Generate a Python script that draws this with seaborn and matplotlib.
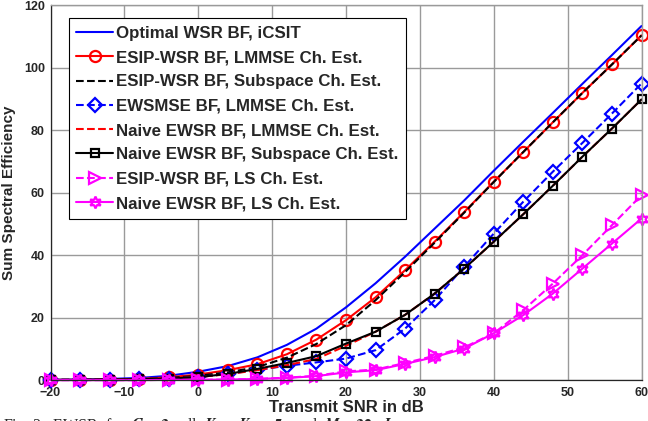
import matplotlib
matplotlib.use("Agg")
import matplotlib.pyplot as plt
import numpy as np
import pandas as pd
import seaborn as sns

# transmit SNR grid (dB)
snr = list(range(-20, 61, 4))

optimal_icsit = [0.1, 0.2, 0.4, 0.7, 1.4, 2.7, 4.5, 7.3, 11.3, 16.5, 23.3,
                 31.0, 39.5, 48.5, 57.5, 67.0, 76.3, 85.5, 94.8, 104.0, 113.3]
esip_lmmse = [0.1, 0.1, 0.2, 0.4, 0.9, 1.8, 3.2, 5.1, 8.3, 13.0, 19.2,
              26.5, 35.2, 44.3, 53.8, 63.5, 73.0, 82.5, 91.9, 101.0, 110.3]
esip_subspace = [0.1, 0.1, 0.2, 0.3, 0.7, 1.4, 2.5, 4.2, 7.2, 11.6, 17.6,
                 25.6, 34.6, 44.0, 53.6, 63.4, 73.0, 82.5, 91.9, 101.0, 110.3]
ewsmse_lmmse = [0.1, 0.1, 0.2, 0.3, 0.5, 1.0, 2.0, 3.3, 4.6, 5.7, 6.9,
                9.6, 16.5, 25.6, 36.3, 46.9, 57.1, 66.7, 75.9, 85.3, 94.9]
naive_lmmse = [0.1, 0.1, 0.2, 0.3, 0.5, 1.0, 1.9, 3.2, 4.8, 6.8, 11.0,
               15.5, 20.9, 27.7, 35.7, 44.3, 53.1, 62.2, 71.5, 80.5, 89.8]
naive_subspace = [0.1, 0.1, 0.2, 0.3, 0.5, 1.0, 2.0, 3.6, 5.5, 7.7, 11.7,
                  15.5, 20.9, 27.7, 35.7, 44.3, 53.1, 62.2, 71.5, 80.5, 89.8]
esip_ls = [0.0, 0.0, 0.0, 0.0, 0.1, 0.1, 0.2, 0.4, 0.8, 1.4, 2.8,
           3.4, 5.5, 7.8, 10.5, 15.0, 22.4, 30.9, 40.0, 49.6, 59.2]
naive_ls = [0.0, 0.0, 0.0, 0.0, 0.1, 0.1, 0.2, 0.4, 0.7, 1.3, 2.5,
            3.2, 5.2, 7.4, 10.1, 15.0, 20.8, 27.7, 35.7, 43.7, 51.7]

series = [
    ("Optimal WSR BF, iCSIT", optimal_icsit, "#0000ff", "-", None),
    ("ESIP-WSR BF, LMMSE Ch. Est.", esip_lmmse, "#ff0000", "-", "o"),
    ("ESIP-WSR BF, Subspace Ch. Est.", esip_subspace, "black", "--", None),
    ("EWSMSE BF, LMMSE Ch. Est.", ewsmse_lmmse, "#0000ff", "--", "D"),
    ("Naive EWSR BF, LMMSE Ch. Est.", naive_lmmse, "#ff0000", "--", None),
    ("Naive EWSR BF, Subspace Ch. Est.", naive_subspace, "black", "-", "s"),
    ("ESIP-WSR BF, LS Ch. Est.", esip_ls, "#ff00ff", "--", ">"),
    ("Naive EWSR BF, LS Ch. Est.", naive_ls, "#ff00ff", "-", (6, 1, 0)),
]
marker_sizes = {"o": 8, "D": 7, "s": 6, ">": 8.5}

sns.set_style("white")
plt.rcParams["font.family"] = ["Liberation Sans", "DejaVu Sans"]
plt.rcParams["font.weight"] = "bold"
plt.rcParams["mathtext.fontset"] = "stix"

fig = plt.figure(figsize=(6.48, 4.21), dpi=100)
ax = fig.add_axes([0.078, 0.097, 0.912, 0.891])

for name, vals, color, ls, mk in series:
    kw = dict(color=color, linestyle=ls, linewidth=1.5, clip_on=False)
    if ls == "--":
        kw["dashes"] = (5, 3.5)
    if mk is not None:
        kw.update(marker=mk, markerfacecolor="none", markeredgecolor=color,
                  markeredgewidth=1.6, markersize=marker_sizes.get(mk, 8.5))
    df = pd.DataFrame({"snr": snr, "val": vals})
    sns.lineplot(data=df, x="snr", y="val", ax=ax, label=name, **kw)

ax.set_xlim(-20, 60)
ax.set_ylim(0, 120)
ax.set_xticks(range(-20, 61, 10))
ax.set_yticks(range(0, 121, 20))
ax.grid(True, color="#9a9a9a", linewidth=1.0)
ax.set_axisbelow(True)
ax.tick_params(direction="in", length=4, width=0.8, labelsize=9,
               labelcolor="#262626", color="#262626")
ax.tick_params(axis="x", pad=5)
ax.tick_params(axis="y", pad=4)
for lab in ax.get_xticklabels() + ax.get_yticklabels():
    lab.set_fontweight("bold")
for side in ["left", "bottom"]:
    ax.spines[side].set_color("#262626")
    ax.spines[side].set_linewidth(0.9)
for side in ["top", "right"]:
    ax.spines[side].set_color("#9a9a9a")
    ax.spines[side].set_linewidth(1.0)

ax.set_xlabel("Transmit SNR in dB", fontsize=12, fontweight="bold",
              color="#262626", labelpad=1)
ax.set_ylabel("Sum Spectral Efficiency", fontsize=11, fontweight="bold",
              color="#262626", labelpad=6)

leg = ax.legend(loc="upper left", bbox_to_anchor=(0.031, 0.965),
                borderaxespad=0, handlelength=2.15,
                handletextpad=0.2, labelspacing=0.55, borderpad=0.45,
                fancybox=False, framealpha=1, edgecolor="black",
                prop={"weight": "bold", "size": 12.2})
leg.get_frame().set_linewidth(0.8)

# figure caption, cut off by the bottom edge as in the source
fig.text(0.004, 0.011,
         "Fig. 2:  EWSR  for  $G = 3$,  all  $K_g = K_u = 5$,  and  $M = 32$,  $L =$",
         fontsize=11.5, family=["Liberation Serif", "DejaVu Serif"],
         fontweight="normal", va="top", ha="left")

fig.savefig("out.png", dpi=100)
